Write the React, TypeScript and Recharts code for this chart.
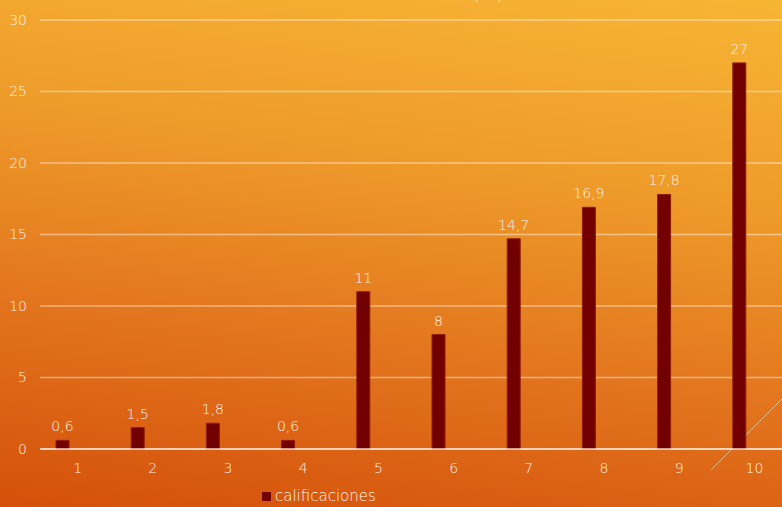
import React from 'react';
import { BarChart, Bar, XAxis, YAxis, CartesianGrid, Legend, LabelList } from 'recharts';

const categories = ['1', '2', '3', '4', '5', '6', '7', '8', '9', '10'];
const calificaciones = [0.6, 1.5, 1.8, 0.6, 11, 8, 14.7, 16.9, 17.8, 27];
const yTicks = [0, 5, 10, 15, 20, 25, 30];
const seriesName = 'calificaciones';

const data = categories.map((c, i) => ({ cat: c, calificaciones: calificaciones[i] }));

const FONT = '"DejaVu Sans", sans-serif';
const WEIGHT = 200;
const TEXT = '#FFF4E6';
const BAR = '#730000';

const fmt = (v: any) => String(v).replace('.', ',');

const LegendContent = () => (
  <div style={{ display: 'flex', alignItems: 'center', fontFamily: FONT, fontWeight: WEIGHT, fontSize: 15, color: TEXT, whiteSpace: 'nowrap' }}>
    <span style={{ display: 'inline-block', width: 9, height: 9, background: BAR, marginRight: 4 }} />
    <span>{seriesName}</span>
  </div>
);

export default function App() {
  return (
    <div style={{ position: 'absolute', left: 0, top: 0, width: 782, height: 507, overflow: 'hidden',
      background: 'linear-gradient(188deg, #F7B534 0%, #EE9A2A 35%, #E3761E 65%, #D4500A 100%)' }}>
      <svg width={782} height={507} style={{ position: 'absolute', left: 0, top: 0 }}>
        <text x={488} y={0} textAnchor="middle" fontFamily={FONT} fontWeight={WEIGHT} fontSize={18} fill={TEXT}>(%)</text>
        <line x1={711} y1={470} x2={800} y2={381} stroke="rgba(255,240,220,0.6)" strokeWidth={1} />
      </svg>
      <div style={{ position: 'absolute', left: 0, top: 0 }}>
        <BarChart width={800} height={507} data={data} margin={{ top: 20, right: 8, left: 0, bottom: 28 }} barGap={18}>
          <CartesianGrid vertical={false} stroke="rgba(255,255,255,0.45)" strokeWidth={1.5} />
          <XAxis dataKey="cat" axisLine={{ stroke: 'rgba(255,245,235,0.85)', strokeWidth: 1.5 }} tickLine={false}
            tickSize={0} tickMargin={14} height={30} interval={0}
            tick={{ fill: TEXT, fontSize: 14, fontFamily: FONT, fontWeight: WEIGHT }} />
          <YAxis domain={[0, 30]} ticks={yTicks} width={40} axisLine={false} tickLine={false}
            tickSize={0} tickMargin={13} tick={{ fill: TEXT, fontSize: 14, fontFamily: FONT, fontWeight: WEIGHT }} />
          <Legend verticalAlign="middle" align="center" content={<LegendContent />}
            wrapperStyle={{ top: 487, left: 262, width: 'auto' }} />
          <Bar dataKey="calificaciones" name={seriesName} fill={BAR} stroke="#8E1D08" strokeWidth={1}
            barSize={13} isAnimationActive={false}>
            <LabelList dataKey="calificaciones" position="top" offset={9} formatter={fmt}
              style={{ fill: TEXT, fontSize: 14, fontFamily: FONT, fontWeight: WEIGHT }} />
          </Bar>
          <Bar dataKey="spacer" legendType="none" fill="transparent" barSize={13} isAnimationActive={false} />
        </BarChart>
      </div>
    </div>
  );
}
